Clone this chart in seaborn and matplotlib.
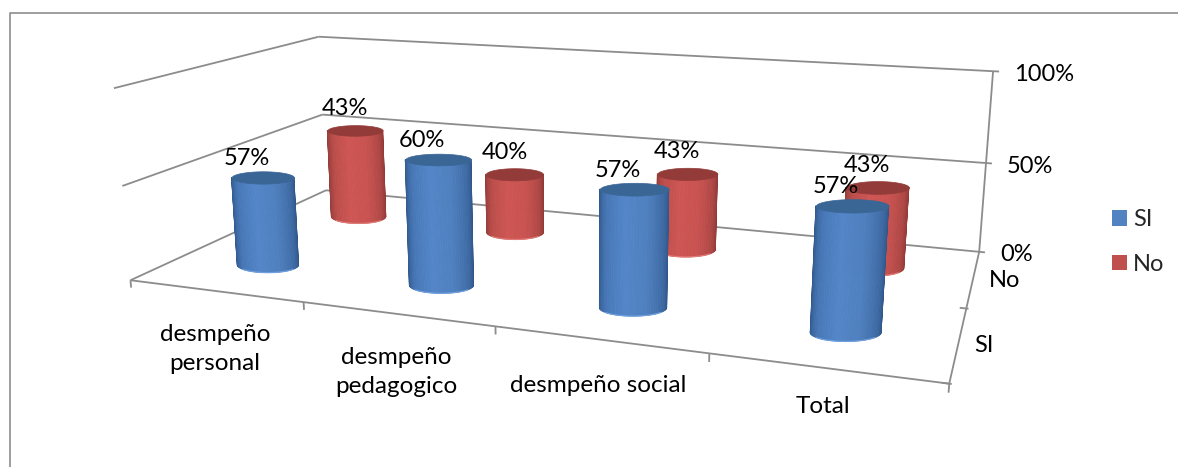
import numpy as np
import matplotlib
matplotlib.use('Agg')
import matplotlib.pyplot as plt
import seaborn as sns
from matplotlib.lines import Line2D
from matplotlib.patches import Patch
from mpl_toolkits.mplot3d import proj3d
from mpl_toolkits.mplot3d.art3d import Poly3DCollection

# Data
categories = ['desmpeño\npersonal', 'desmpeño\npedagogico', 'desmpeño social', 'Total']
series = ['SI', 'No']
si_heights = [0.48, 0.655, 0.59, 0.60]
no_heights = [0.53, 0.345, 0.43, 0.44]
si_labels = ['57%', '60%', '57%', '57%']
no_labels = ['43%', '40%', '43%', '43%']
value_ticks = [0, 0.5, 1]
value_tick_labels = ['0%', '50%', '100%']

W, H = 1178, 467
GRID = '#8c8c8c'

sns.set_theme(style='white')
plt.rcParams['font.family'] = ['Lato', 'DejaVu Sans']
plt.rcParams['font.size'] = 17

blue_shades = sns.blend_palette(['#2f5587', '#4676b5', '#5386c8', '#4f80bf', '#3e6ba5', '#2d4f7f'], 41)
red_shades = sns.blend_palette(['#8e3a38', '#b84c49', '#ce5654', '#c95351', '#ad4745', '#863532'], 41)
blue_top, red_top = '#3a6696', '#933b39'
blue_rim, red_rim = '#6f9fdc', '#e07a76'

fig = plt.figure(figsize=(W / 100, H / 100), dpi=100)
fig.patch.set_facecolor('white')
ax = fig.add_axes([0, (1 - W / H) / 2, 1, W / H], projection='3d')
ax.set_xlim(0, 4)
ax.set_ylim(0, 2)
ax.set_zlim(0, 1)
ax.set_axis_off()
ax.set_proj_type('ortho')
ax.computed_zorder = False
ax.apply_aspect()

# Camera: the plot box corners as seen in the picture give the perspective
box_world = np.array([[0, 0, 0], [4, 0, 0], [4, 2, 0], [0, 2, 0], [0, 2, 1], [4, 2, 1], [0, 0, 1],
                      [0, 2, .5], [4, 2, .5], [0, 0, .5], [1, 0, 0], [2, 0, 0], [3, 0, 0], [4, 1, 0]], float)
box_pixel = np.array([[131, 281], [950, 383], [979, 252], [326, 190], [319, 36], [993, 72], [114, 88],
                      [322, 115], [986, 163], [122, 186], [304, 302], [495, 327], [708, 353], [967, 308]], float)
rows = []
for (x, y, z), (u, v) in zip(box_world, box_pixel):
    u, v = u / 1000, v / 1000
    rows.append([x, y, z, 1, 0, 0, 0, 0, -u * x, -u * y, -u * z, -u])
    rows.append([0, 0, 0, 0, x, y, z, 1, -v * x, -v * y, -v * z, -v])
camera = np.linalg.svd(np.array(rows))[2][-1].reshape(3, 4)
camera[:2] *= 1000

# pixel -> the view coordinates of the 3d axes
inv = ax.transData.inverted()
(x0, y0), (x1, y1) = inv.transform([(0, H), (W, 0)])
to_view = np.array([[(x1 - x0) / W, 0, x0], [0, (y1 - y0) / H, y0], [0, 0, 1]])
view = to_view @ camera
proj_matrix = np.vstack([view[0], view[1], [0, 1, 0, 0], view[2]])
ax.get_proj = lambda: proj_matrix


def to_pixel(x, y, z):
    u, v, w = camera @ np.array([x, y, z, 1.0])
    return np.array([u / w, v / w])


def put_text(x, y, z, text, dx, dy, ha='center', va='center', **kw):
    vx, vy, _ = proj3d.proj_transform(x, y, z, proj_matrix)
    ax.annotate(text, (vx, vy), xytext=(dx, -dy), textcoords='offset pixels', ha=ha, va=va,
                annotation_clip=False, color='black', zorder=50, **kw)


def cylinder(xc, yc, height, shades, top, rim, order):
    base = to_pixel(xc, yc, 0)
    a = 0.165 * np.linalg.norm(to_pixel(xc, yc, 1) - base)
    b = 0.25 * a
    d = 0.01
    jac = np.column_stack([(to_pixel(xc + d, yc, 0) - base) / d, (to_pixel(xc, yc + d, 0) - base) / d])
    to_world = np.linalg.inv(jac)
    # front half of the wall: sin(t) >= 0 is downward in the picture
    t = np.linspace(np.pi, 0, 41)
    wx, wy = to_world @ np.vstack([a * np.cos(t), b * np.sin(t)])
    X = np.vstack([xc + wx, xc + wx])
    Y = np.vstack([yc + wy, yc + wy])
    Z = np.vstack([np.zeros_like(t), np.full_like(t, height)])
    colors = np.ones((2, len(t), 4))
    colors[:, :, :3] = np.array(shades)[:len(t)]
    ax.plot_surface(X, Y, Z, facecolors=colors, shade=False, rstride=1, cstride=1,
                    linewidth=0.6, antialiased=True, zorder=order)
    ax.plot(X[0][8:33], Y[0][8:33], Z[0][8:33], color=rim, lw=0.9, zorder=order + 0.2)
    t = np.linspace(0, 2 * np.pi, 81)
    wx, wy = to_world @ np.vstack([a * np.cos(t), b * np.sin(t)])
    cap = Poly3DCollection([np.column_stack([xc + wx, yc + wy, np.full_like(t, height)])],
                           facecolor=top, edgecolor=top, linewidth=0.5, zorder=order + 0.5)
    ax.add_collection3d(cap, autolim=False)


# Plot box
line_kw = dict(color=GRID, lw=1.3, zorder=1, solid_capstyle='butt')
for v in value_ticks:
    ax.plot([0, 4], [2, 2], [v, v], **line_kw)
    ax.plot([0, 0], [0, 2], [v, v], **line_kw)
    ax.plot([4, 4.03], [2, 2], [v, v], **line_kw)
ax.plot([0, 4], [0, 0], [0, 0], **line_kw)
ax.plot([4, 4], [0, 2], [0, 0], **line_kw)
ax.plot([4, 4], [2, 2], [0, 1], **line_kw)
for i in range(5):
    ax.plot([i, i], [0, 0], [0, -0.04], **line_kw)
for d in range(2):
    ax.plot([3.97, 4.01], [d, d], [0, 0], **line_kw)

# Cylinders, back row first
for i, h in enumerate(no_heights):
    cylinder(i + 0.5, 1.5, h, red_shades, red_top, red_rim, 5 + i)
for i, h in enumerate(si_heights):
    cylinder(i + 0.513, 0.47, h, blue_shades, blue_top, blue_rim, 15 + i)

# Data labels
for i, (h, lab) in enumerate(zip(no_heights, no_labels)):
    put_text(i + 0.5, 1.5, h, lab, -10, -22)
for i, (h, lab) in enumerate(zip(si_heights, si_labels)):
    put_text(i + 0.513, 0.47, h, lab, -16, -19)

# Axis labels
for v, lab in zip(value_ticks, value_tick_labels):
    put_text(4, 2, v, lab, 21, 3, ha='left')
for d, lab in zip([0.5, 1.5], series):
    put_text(4, d, 0, lab, 16, 2, ha='left')
cat_offsets = [(0, 58), (-1, 58), (-1, 46), (-3, 38)]
for i, (lab, (dx, dy)) in enumerate(zip(categories, cat_offsets)):
    put_text(i + 0.5, 0, 0, lab, dx, dy, ha='center', fontsize=17.5, linespacing=1.45)

# Legend and the frame cut by the picture edge
handles = [Patch(color=blue_shades[20], lw=0), Patch(color='#c0504d', lw=0)]
fig.legend(handles, series, loc='center left', bbox_to_anchor=(1112 / W, 1 - 242 / H), frameon=False, fontsize=17,
           borderpad=0, borderaxespad=0, handlelength=0.65, handleheight=0.65, handletextpad=0.25, labelspacing=1.0)
fig.add_artist(Line2D([9.5 / W, 9.5 / W, 1], [0, 1 - 12.5 / H, 1 - 12.5 / H], color='#8c8c8c', lw=1.2))

fig.savefig('out.png', dpi=100)
